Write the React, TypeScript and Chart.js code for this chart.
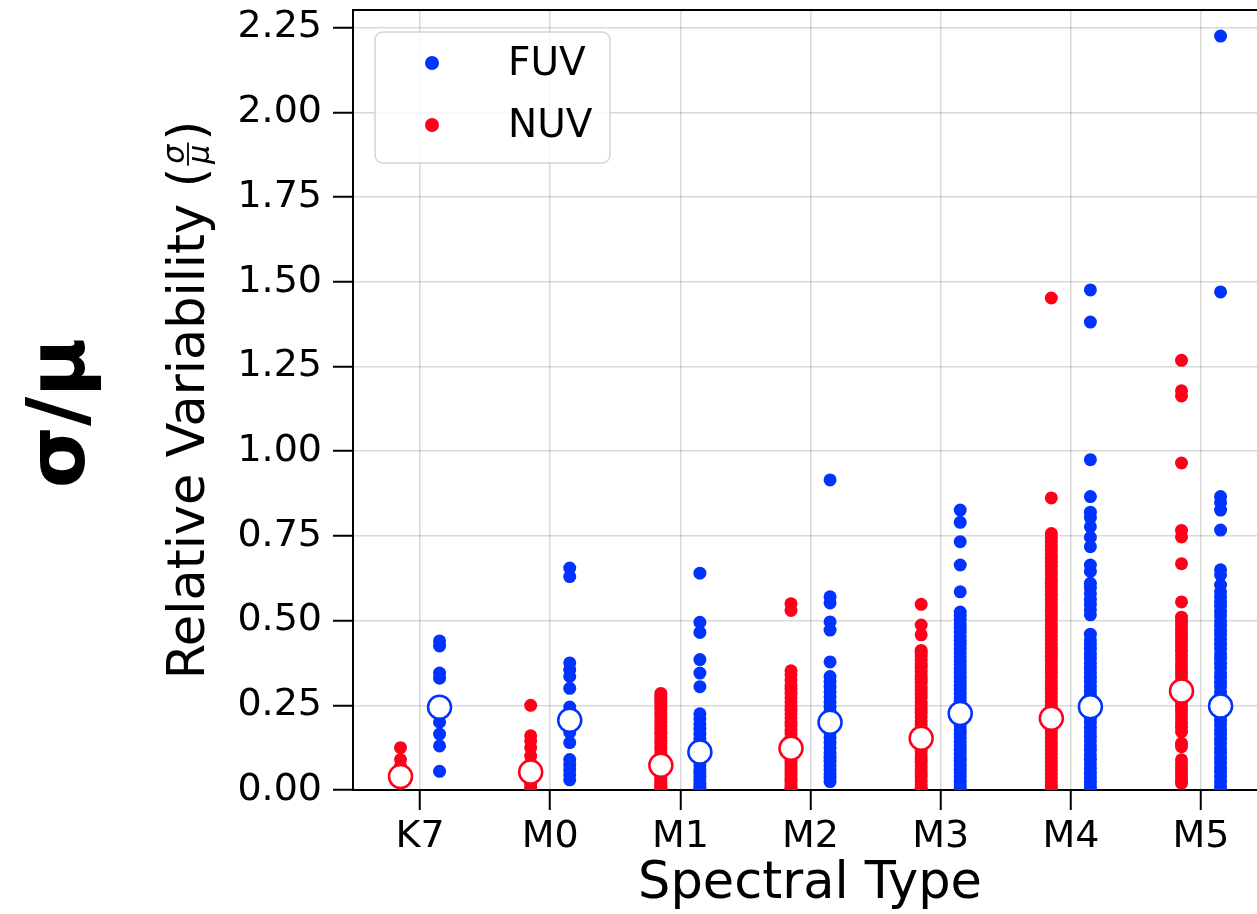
import { useEffect, useRef } from 'react';
import { Chart, registerables } from 'chart.js';

Chart.register(...registerables);

// Spectral types along the x axis
const spectralTypes = ['K7', 'M0', 'M1', 'M2', 'M3', 'M4', 'M5'];
const yTickValues = [0, 0.25, 0.5, 0.75, 1.0, 1.25, 1.5, 1.75, 2.0, 2.25];

// Relative variability (sigma / mu) per star, NUV band
const nuvK7 = [0.125, 0.09, 0.07, 0.05, 0.03, 0.02];
const nuvM0 = [0.25, 0.16, 0.145, 0.125, 0.1, 0.08, 0.06, 0.045, 0.03, 0.02, 0.01, 0.0];
const nuvM1 = [0.285, 0.278, 0.27, 0.262, 0.255, 0.245, 0.236, 0.228, 0.22, 0.21, 0.2, 0.19, 0.182, 0.172, 0.165, 0.155, 0.146, 0.138, 0.128, 0.12, 0.11, 0.1, 0.092, 0.085, 0.078, 0.07, 0.062, 0.055, 0.048, 0.04, 0.033, 0.026, 0.02, 0.014, 0.008, 0.003];
const nuvM2 = [0.55, 0.53, 0.352, 0.34, 0.325, 0.31, 0.298, 0.285, 0.272, 0.26, 0.248, 0.236, 0.225, 0.213, 0.2, 0.19, 0.178, 0.167, 0.155, 0.145, 0.135, 0.124, 0.113, 0.102, 0.092, 0.082, 0.072, 0.062, 0.052, 0.043, 0.034, 0.026, 0.018, 0.01, 0.004, 0.0];
const nuvM3 = [0.548, 0.487, 0.458, 0.412, 0.404, 0.395, 0.383, 0.371, 0.362, 0.35, 0.338, 0.327, 0.318, 0.305, 0.294, 0.282, 0.273, 0.26, 0.249, 0.238, 0.227, 0.216, 0.204, 0.193, 0.181, 0.172, 0.16, 0.148, 0.137, 0.126, 0.115, 0.104, 0.093, 0.082, 0.071, 0.06, 0.049, 0.038, 0.027, 0.016, 0.007, 0.002];
const nuvM4 = [1.452, 0.862, 0.757, 0.745, 0.733, 0.72, 0.708, 0.695, 0.684, 0.672, 0.66, 0.647, 0.636, 0.622, 0.611, 0.599, 0.587, 0.575, 0.563, 0.55, 0.538, 0.527, 0.515, 0.503, 0.49, 0.478, 0.466, 0.455, 0.443, 0.43, 0.418, 0.406, 0.395, 0.383, 0.37, 0.358, 0.347, 0.335, 0.322, 0.31, 0.298, 0.287, 0.275, 0.262, 0.25, 0.238, 0.227, 0.214, 0.203, 0.19, 0.178, 0.167, 0.155, 0.142, 0.131, 0.119, 0.107, 0.095, 0.083, 0.071, 0.06, 0.048, 0.036, 0.024, 0.013, 0.004];
const nuvM5 = [1.268, 1.178, 1.163, 0.965, 0.766, 0.747, 0.668, 0.555, 0.51, 0.498, 0.486, 0.472, 0.46, 0.447, 0.435, 0.422, 0.41, 0.397, 0.385, 0.372, 0.36, 0.347, 0.335, 0.322, 0.31, 0.298, 0.285, 0.272, 0.26, 0.247, 0.235, 0.222, 0.21, 0.197, 0.185, 0.172, 0.138, 0.128, 0.089, 0.077, 0.064, 0.052, 0.04, 0.028, 0.02];

// Relative variability per star, FUV band
const fuvK7 = [0.44, 0.425, 0.345, 0.33, 0.245, 0.23, 0.2, 0.165, 0.13, 0.055];
const fuvM0 = [0.655, 0.63, 0.375, 0.355, 0.335, 0.3, 0.245, 0.225, 0.195, 0.17, 0.14, 0.09, 0.075, 0.06, 0.045, 0.03];
const fuvM1 = [0.64, 0.495, 0.465, 0.385, 0.345, 0.305, 0.225, 0.21, 0.195, 0.18, 0.165, 0.15, 0.135, 0.122, 0.11, 0.098, 0.085, 0.072, 0.06, 0.05, 0.04, 0.03, 0.02, 0.012, 0.005];
const fuvM2 = [0.915, 0.57, 0.552, 0.496, 0.472, 0.378, 0.335, 0.32, 0.305, 0.29, 0.275, 0.26, 0.245, 0.23, 0.215, 0.2, 0.185, 0.17, 0.155, 0.14, 0.125, 0.11, 0.097, 0.085, 0.072, 0.06, 0.048, 0.037, 0.025];
const fuvM3 = [0.826, 0.79, 0.733, 0.664, 0.585, 0.525, 0.515, 0.503, 0.49, 0.478, 0.466, 0.453, 0.441, 0.43, 0.417, 0.405, 0.393, 0.381, 0.37, 0.357, 0.345, 0.333, 0.32, 0.309, 0.297, 0.285, 0.273, 0.262, 0.25, 0.238, 0.226, 0.214, 0.203, 0.19, 0.178, 0.167, 0.155, 0.143, 0.131, 0.12, 0.108, 0.096, 0.085, 0.073, 0.061, 0.05, 0.038, 0.026, 0.015, 0.005];
const fuvM4 = [1.476, 1.381, 0.975, 0.866, 0.82, 0.804, 0.777, 0.746, 0.718, 0.664, 0.645, 0.61, 0.596, 0.58, 0.563, 0.548, 0.532, 0.517, 0.46, 0.443, 0.43, 0.416, 0.401, 0.388, 0.374, 0.36, 0.347, 0.333, 0.32, 0.306, 0.293, 0.28, 0.266, 0.252, 0.239, 0.226, 0.212, 0.199, 0.185, 0.172, 0.158, 0.145, 0.131, 0.118, 0.104, 0.091, 0.077, 0.064, 0.05, 0.037, 0.023, 0.01, 0.0];
const fuvM5 = [2.225, 1.47, 0.866, 0.848, 0.826, 0.767, 0.65, 0.635, 0.605, 0.585, 0.571, 0.556, 0.543, 0.527, 0.514, 0.499, 0.486, 0.471, 0.459, 0.444, 0.43, 0.417, 0.402, 0.389, 0.374, 0.361, 0.346, 0.333, 0.318, 0.305, 0.29, 0.277, 0.262, 0.249, 0.234, 0.221, 0.206, 0.193, 0.178, 0.165, 0.15, 0.137, 0.122, 0.109, 0.094, 0.081, 0.066, 0.053, 0.038, 0.025, 0.012, 0.0];

// Median relative variability per spectral type
const nuvMedian = [0.04, 0.053, 0.073, 0.123, 0.153, 0.212, 0.292];
const fuvMedian = [0.244, 0.206, 0.112, 0.2, 0.226, 0.246, 0.248];

const nuvGroups = [nuvK7, nuvM0, nuvM1, nuvM2, nuvM3, nuvM4, nuvM5];
const fuvGroups = [fuvK7, fuvM0, fuvM1, fuvM2, fuvM3, fuvM4, fuvM5];

const FUV_COLOR = '#0033ff';
const NUV_COLOR = '#ff0018';
const FONT = '"DejaVu Sans", "Liberation Sans", sans-serif';
const BAND_SHIFT = 0.15;

function groupPoints(groups: number[][], shift: number) {
  return groups.flatMap((vals, i) => vals.map((v) => ({ x: i + shift, y: v })));
}

function medianPoints(vals: number[], shift: number) {
  return vals.map((v, i) => ({ x: i + shift, y: v }));
}

// Top spine, inset legend and the axis annotations
const decorPlugin = {
  id: 'decor',
  afterDraw(chart: any) {
    const { ctx, chartArea } = chart;
    ctx.save();

    // top spine
    ctx.strokeStyle = '#000';
    ctx.lineWidth = 2;
    ctx.beginPath();
    ctx.moveTo(chartArea.left - 1, chartArea.top);
    ctx.lineTo(chartArea.right, chartArea.top);
    ctx.stroke();

    // legend box
    const lx = chartArea.left + 22;
    const ly = chartArea.top + 22;
    const lw = 235;
    const lh = 131;
    ctx.beginPath();
    ctx.roundRect(lx, ly, lw, lh, 8);
    ctx.fillStyle = 'rgba(255,255,255,0.8)';
    ctx.fill();
    ctx.strokeStyle = '#d4d4d4';
    ctx.lineWidth = 1.5;
    ctx.stroke();

    const entries = [
      { label: 'FUV', color: FUV_COLOR, y: ly + 31 },
      { label: 'NUV', color: NUV_COLOR, y: ly + 93 },
    ];
    ctx.font = `39px ${FONT}`;
    ctx.textBaseline = 'middle';
    ctx.textAlign = 'left';
    for (const e of entries) {
      ctx.beginPath();
      ctx.arc(lx + 57, e.y, 7, 0, Math.PI * 2);
      ctx.fillStyle = e.color;
      ctx.fill();
      ctx.fillStyle = '#000';
      ctx.fillText(e.label, lx + 133, e.y + 2);
    }

    // x axis title, centred on the full axes width (which runs past the right edge)
    ctx.fillStyle = '#000';
    ctx.font = `51px ${FONT}`;
    ctx.textAlign = 'center';
    ctx.textBaseline = 'alphabetic';
    ctx.fillText('Spectral Type', 810, 898);

    // y axis title with a stacked sigma over mu fraction
    const cy = (chartArea.top + chartArea.bottom) / 2;
    ctx.translate(204, cy);
    ctx.rotate(-Math.PI / 2);
    const mainFont = `51px ${FONT}`;
    const smallFont = `italic 30px ${FONT}`;
    ctx.font = mainFont;
    const leftText = 'Relative Variability (';
    const rightText = ')';
    const wl = ctx.measureText(leftText).width;
    const wr = ctx.measureText(rightText).width;
    ctx.font = smallFont;
    const wf = Math.max(ctx.measureText('σ').width, ctx.measureText('μ').width) + 8;
    const total = wl + wf + wr;
    let u = -total / 2;
    ctx.textBaseline = 'alphabetic';
    ctx.textAlign = 'left';
    ctx.font = mainFont;
    ctx.fillText(leftText, u, 0);
    u += wl;
    const barV = -16;
    ctx.fillRect(u + 2, barV - 0.9, wf - 4, 1.8);
    ctx.font = smallFont;
    ctx.textAlign = 'center';
    ctx.fillText('σ', u + wf / 2, barV - 4);
    ctx.fillText('μ', u + wf / 2, barV + 21);
    u += wf;
    ctx.font = mainFont;
    ctx.textAlign = 'left';
    ctx.fillText(rightText, u, 0);
    ctx.setTransform(1, 0, 0, 1, 0, 0);

    // large side label
    ctx.translate(84, 413);
    ctx.rotate(-Math.PI / 2);
    ctx.font = `bold 80px ${FONT}`;
    ctx.textAlign = 'center';
    ctx.textBaseline = 'alphabetic';
    ctx.fillText('σ/μ', 0, 0);

    ctx.restore();
  },
};

export default function App() {
  const canvasRef = useRef<HTMLCanvasElement | null>(null);

  useEffect(() => {
    const canvas = canvasRef.current;
    if (!canvas) return;

    const gridColor = 'rgba(0,0,0,0.15)';

    const chart = new Chart(canvas, {
      type: 'scatter',
      data: {
        datasets: [
          {
            label: 'FUV median',
            data: medianPoints(fuvMedian, BAND_SHIFT),
            pointRadius: 11.5,
            pointBorderWidth: 2.5,
            pointBackgroundColor: '#ffffff',
            pointBorderColor: FUV_COLOR,
            order: 0,
            clip: 0,
          },
          {
            label: 'NUV median',
            data: medianPoints(nuvMedian, -BAND_SHIFT),
            pointRadius: 11.5,
            pointBorderWidth: 2.5,
            pointBackgroundColor: '#ffffff',
            pointBorderColor: NUV_COLOR,
            order: 0,
            clip: 0,
          },
          {
            label: 'FUV',
            data: groupPoints(fuvGroups, BAND_SHIFT),
            pointRadius: 6.5,
            pointBorderWidth: 0,
            pointBackgroundColor: FUV_COLOR,
            order: 1,
            clip: 0,
          },
          {
            label: 'NUV',
            data: groupPoints(nuvGroups, -BAND_SHIFT),
            pointRadius: 6.5,
            pointBorderWidth: 0,
            pointBackgroundColor: NUV_COLOR,
            order: 1,
            clip: 0,
          },
        ] as any,
      },
      options: {
        responsive: false,
        devicePixelRatio: 1,
        animation: false,
        events: [],
        layout: { autoPadding: false, padding: { top: 10, right: 0, bottom: 0, left: 0 } },
        plugins: {
          legend: { display: false },
          tooltip: { enabled: false },
        },
        scales: {
          x: {
            type: 'linear',
            min: -0.515,
            max: 6.43,
            afterBuildTicks: (scale: any) => {
              scale.ticks = spectralTypes.map((_, i) => ({ value: i }));
            },
            afterFit: (scale: any) => {
              scale.height = 124;
              scale.paddingLeft = 0;
              scale.paddingRight = 0;
            },
            ticks: {
              autoSkip: false,
              maxRotation: 0,
              padding: 4,
              color: '#000',
              font: { family: FONT, size: 38 },
              callback: (v: any) => spectralTypes[Math.round(Number(v))] ?? '',
            },
            grid: {
              color: gridColor,
              lineWidth: 1.5,
              tickLength: 20,
              tickColor: '#000',
              tickWidth: 2,
            },
            border: { color: '#000', width: 2 },
          },
          y: {
            type: 'linear',
            min: 0,
            max: 2.302,
            afterBuildTicks: (scale: any) => {
              scale.ticks = yTickValues.map((v) => ({ value: v }));
            },
            afterFit: (scale: any) => {
              scale.width = 353;
              scale.paddingTop = 0;
              scale.paddingBottom = 0;
            },
            ticks: {
              padding: 11,
              color: '#000',
              font: { family: FONT, size: 38 },
              callback: (v: any) => Number(v).toFixed(2),
            },
            grid: {
              color: gridColor,
              lineWidth: 1.5,
              tickLength: 20,
              tickColor: '#000',
              tickWidth: 2,
            },
            border: { color: '#000', width: 2 },
          },
        },
      },
      plugins: [decorPlugin],
    });

    return () => chart.destroy();
  }, []);

  return (
    <div style={{ position: 'absolute', left: 0, top: 0, width: 1257, height: 914, overflow: 'hidden', background: '#fff' }}>
      <canvas ref={canvasRef} width={1257} height={914} style={{ display: 'block' }} />
    </div>
  );
}
